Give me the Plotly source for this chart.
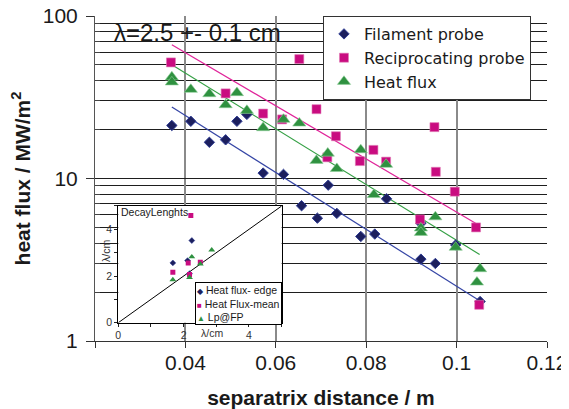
import plotly.graph_objects as go

# ---------------- data (main chart) ----------------
fil_x = [0.0370, 0.0412, 0.0453, 0.0489, 0.0514, 0.0536, 0.0572, 0.0617, 0.0657, 0.0692,
         0.0716, 0.0735, 0.0788, 0.0819, 0.0845, 0.0921, 0.0921, 0.0953, 0.0998, 0.1052]
fil_y = [21.2, 22.5, 16.7, 17.3, 22.5, 24.8, 10.8, 10.6, 6.8, 5.7,
         9.1, 6.1, 4.4, 4.55, 7.5, 5.3, 3.19, 3.0, 3.9, 1.75]

rec_x = [0.0368, 0.0489, 0.0572, 0.0614, 0.0652, 0.0690, 0.0714, 0.0733, 0.0786, 0.0816,
         0.0844, 0.0919, 0.0951, 0.0954, 0.0996, 0.1043, 0.1050]
rec_y = [51.8, 33.4, 25.1, 23.1, 54.3, 26.7, 13.5, 18.2, 12.8, 15.0,
         12.7, 5.6, 20.7, 11.0, 8.3, 5.0, 1.67]

hf_x = [0.0370, 0.0370, 0.0412, 0.0453, 0.0489, 0.0514, 0.0536, 0.0572, 0.0617, 0.0652,
        0.0690, 0.0715, 0.0735, 0.0788, 0.0817, 0.0844, 0.0921, 0.0921, 0.0953, 0.0998,
        0.1045, 0.1052]
hf_y = [42.1, 39.2, 35.3, 33.2, 28.4, 33.7, 26.2, 20.5, 23.1, 21.9,
        12.9, 14.3, 11.5, 15.0, 7.95, 12.2, 4.95, 4.65, 5.8, 3.77,
        2.3, 2.78]

# exponential fit lines (end points)
fit_fil_x = [0.037, 0.1051]
fit_fil_y = [27.5, 1.77]
fit_hf_x = [0.037, 0.1051]
fit_hf_y = [50.1, 3.41]
fit_rec_x = [0.037, 0.1042]
fit_rec_y = [66.6, 5.3]

x_tickvals = [0.02, 0.04, 0.06, 0.08, 0.10, 0.12]
x_ticktext = ["", "0.04", "0.06", "0.08", "0.1", "0.12"]
y_tickvals = [1, 10, 100]
y_ticktext = ["1", "10", "100"]
y_minor = [2, 3, 4, 5, 6, 7, 8, 9, 20, 30, 40, 50, 60, 70, 80, 90]

# ---------------- data (inset: decay lengths) ----------------
edge_x = [1.67, 2.12, 2.25, 2.18]
edge_y = [2.56, 2.66, 3.52, 2.10]
mean_x = [1.67, 2.14, 2.22, 2.18, 2.51]
mean_y = [2.16, 2.56, 4.59, 2.06, 2.59]
lp_x = [1.67, 2.18, 2.25, 2.51, 2.86]
lp_y = [1.84, 1.94, 2.82, 2.52, 3.11]
diag = [0, 5]
inset_tickvals = [0, 1, 2, 3, 4, 5]
inset_ticktext = ["0", "", "2", "", "4", ""]
inset_names = ["Heat flux- edge", "Heat Flux-mean", "Lp@FP"]

NAVY = "#1c1f5e"
NAVY_EDGE = "#2f3d94"
MAG = "#c90c80"
GREEN = "#2f9140"
FONT = "Liberation Sans, Arial, sans-serif"

fig = go.Figure()

# fit lines
fig.add_trace(go.Scatter(x=fit_fil_x, y=fit_fil_y, mode="lines",
                         line=dict(color="#3545a5", width=1.2), showlegend=False, hoverinfo="skip"))
fig.add_trace(go.Scatter(x=fit_hf_x, y=fit_hf_y, mode="lines",
                         line=dict(color="#35a045", width=1.2), showlegend=False, hoverinfo="skip"))
fig.add_trace(go.Scatter(x=fit_rec_x, y=fit_rec_y, mode="lines",
                         line=dict(color="#e0259a", width=1.2), showlegend=False, hoverinfo="skip"))

# main scatter series
fig.add_trace(go.Scatter(x=fil_x, y=fil_y, mode="markers", name="Filament probe",
                         marker=dict(symbol="diamond", size=8, color=NAVY,
                                     line=dict(color=NAVY_EDGE, width=1))))
fig.add_trace(go.Scatter(x=rec_x, y=rec_y, mode="markers", name="Reciprocating probe",
                         marker=dict(symbol="square", size=9, color=MAG,
                                     line=dict(color="#e07ab5", width=0.6))))
fig.add_trace(go.Scatter(x=hf_x, y=hf_y, mode="markers", name="Heat flux",
                         marker=dict(symbol="triangle-up", size=11.5, color=GREEN,
                                     line=dict(color="#8fcf98", width=0.6))))

# inset traces
fig.add_trace(go.Scatter(x=diag, y=diag, mode="lines", xaxis="x2", yaxis="y2",
                         line=dict(color="black", width=1), showlegend=False, hoverinfo="skip"))
fig.add_trace(go.Scatter(x=edge_x, y=edge_y, mode="markers", xaxis="x2", yaxis="y2",
                         name=inset_names[0], showlegend=False,
                         marker=dict(symbol="diamond", size=4.5, color=NAVY,
                                     line=dict(color=NAVY_EDGE, width=0.6))))
fig.add_trace(go.Scatter(x=mean_x, y=mean_y, mode="markers", xaxis="x2", yaxis="y2",
                         name=inset_names[1], showlegend=False,
                         marker=dict(symbol="square", size=5, color=MAG)))
fig.add_trace(go.Scatter(x=lp_x, y=lp_y, mode="markers", xaxis="x2", yaxis="y2",
                         name=inset_names[2], showlegend=False,
                         marker=dict(symbol="triangle-up", size=6, color=GREEN)))

inset_legend_text = (
    f'<span style="color:{NAVY};font-size:8px">◆</span> {inset_names[0]}<br>'
    f'<span style="color:{MAG};font-size:8px">■</span> {inset_names[1]}<br>'
    f'<span style="color:{GREEN};font-size:8px">▲</span> {inset_names[2]}'
)

fig.update_layout(
    width=561, height=401, autosize=False,
    margin=dict(l=87, r=22, t=8, b=68, pad=0),
    paper_bgcolor="white", plot_bgcolor="white",
    font=dict(family=FONT, color="#1a1a1a"),
    xaxis=dict(
        range=[0.02, 0.12], tickvals=x_tickvals, ticktext=x_ticktext, automargin=False,
        showgrid=True, gridcolor="#8a8a8a", gridwidth=1.5,
        ticks="outside", ticklen=6, tickcolor="#333", tickwidth=1,
        showline=True, linecolor="#333", linewidth=1, zeroline=False,
        ticklabelstandoff=-3, ticklabeloverflow="allow",
        tickfont=dict(size=21, color="#1a1a1a"),
        title=dict(text="<b>separatrix distance / m</b>", font=dict(size=21), standoff=17),
    ),
    yaxis=dict(
        type="log", range=[0, 2], tickvals=y_tickvals, ticktext=y_ticktext, automargin=False,
        showgrid=True, gridcolor="#1e1e1e", gridwidth=1.1,
        ticks="outside", ticklen=8, tickcolor="#333", tickwidth=1,
        showline=True, linecolor="#555", linewidth=1, zeroline=False,
        ticklabelstandoff=4, ticklabeloverflow="allow",
        minor=dict(tickvals=y_minor, ticks="inside", ticklen=5, tickcolor="#444",
                   showgrid=True, gridcolor="#1e1e1e", gridwidth=1.1),
        tickfont=dict(size=21, color="#1a1a1a"),
        title=dict(text="<b>heat flux / MW/m<sup>2</sup></b>", font=dict(size=21), standoff=10),
    ),
    xaxis2=dict(
        domain=[0.0515, 0.413], anchor="y2", range=[0, 5], automargin=False,
        tickvals=inset_tickvals, ticktext=inset_ticktext,
        ticks="outside", ticklen=3, tickcolor="#222",
        showline=True, mirror=True, linecolor="black", linewidth=1,
        showgrid=False, zeroline=False,
        tickfont=dict(size=10.5, color="#333"),
    ),
    yaxis2=dict(
        domain=[0.0563, 0.4154], anchor="x2", range=[0, 5], automargin=False,
        tickvals=inset_tickvals, ticktext=inset_ticktext,
        ticks="outside", ticklen=3, tickcolor="#222",
        showline=True, mirror=True, linecolor="black", linewidth=1,
        showgrid=False, zeroline=False,
        tickfont=dict(size=10.5, color="#333"),
    ),
    legend=dict(
        x=0.5044, y=1.0, xanchor="left", yanchor="top",
        bgcolor="white", bordercolor="#333", borderwidth=1,
        font=dict(family="DejaVu Sans, Liberation Sans, sans-serif", size=16, color="#1a1a1a"),
        tracegroupgap=0,
    ),
    showlegend=True,
    shapes=[
        # white background of the inset chart object
        dict(type="rect", xref="x2 domain", yref="y2 domain",
             x0=-0.112, x1=1.02, y0=-0.14, y1=1.051,
             fillcolor="white", line=dict(width=0), layer="below"),
    ],
    annotations=[
        dict(text="λ=2.5 +- 0.1 cm", xref="paper", yref="paper", x=0.0376, y=0.948,
             xanchor="left", yanchor="middle", showarrow=False,
             font=dict(size=24, color="#1a1a1a")),
        dict(text="DecayLenghts", xref="paper", yref="paper", x=0.054, y=0.396,
             xanchor="left", yanchor="middle", showarrow=False,
             font=dict(size=10.5, color="#1a1a1a")),
        dict(text="λ/cm", xref="paper", yref="paper", x=0.2588, y=0.0246,
             xanchor="center", yanchor="middle", showarrow=False,
             font=dict(size=10.5, color="#333")),
        dict(text="λ/cm", xref="paper", yref="paper", x=0.0243, y=0.277,
             xanchor="center", yanchor="middle", showarrow=False, textangle=-90,
             font=dict(size=10.5, color="#333")),
        dict(text=inset_legend_text, xref="paper", yref="paper", x=0.2212, y=0.1815,
             xanchor="left", yanchor="top", showarrow=False, align="left",
             bgcolor="white", bordercolor="black", borderwidth=1, borderpad=1,
             font=dict(size=10.5, color="#1a1a1a")),
    ],
)

fig.write_html("out.html")
